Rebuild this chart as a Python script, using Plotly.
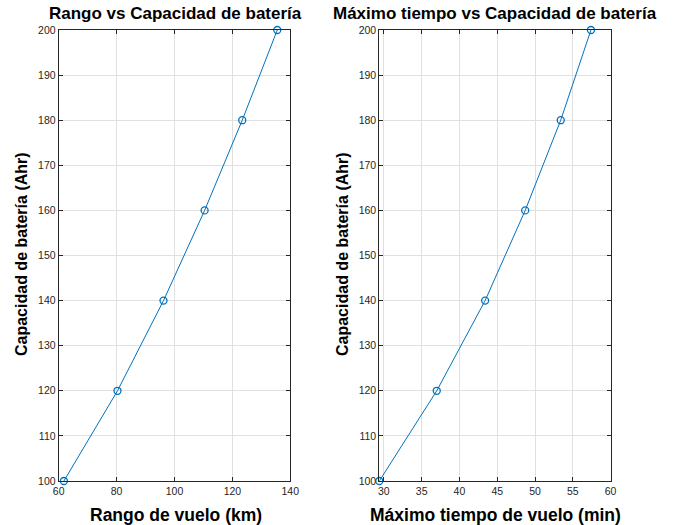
import plotly.graph_objects as go

capacidad = [100, 120, 140, 160, 180, 200]
rango_km = [61.8, 80.3, 96.2, 110.4, 123.4, 135.5]
tiempo_min = [29.4, 37.0, 43.4, 48.7, 53.4, 57.4]

title_left = "Rango vs Capacidad de batería"
title_right = "Máximo tiempo vs Capacidad de batería"
xlabel_left = "Rango de vuelo (km)"
xlabel_right = "Máximo tiempo de vuelo (min)"
ylabel = "Capacidad de batería (Ahr)"

W, H = 673, 525
blue = "#0072BD"
axc = "#262626"
gridc = "#e0e0e0"
font = "Liberation Sans, Arial, sans-serif"

# plot box positions in pixels
L1, R1 = 58.7, 290.3
L2, R2 = 379.3, 610.6
T, B = 30.0, 481.0

fig = go.Figure()
fig.add_trace(go.Scatter(x=rango_km, y=capacidad, mode="lines+markers",
                         line=dict(color=blue, width=1),
                         marker=dict(symbol="circle-open", size=7, color=blue, line=dict(width=1.3)),
                         xaxis="x", yaxis="y", showlegend=False, cliponaxis=False))
fig.add_trace(go.Scatter(x=tiempo_min, y=capacidad, mode="lines+markers",
                         line=dict(color=blue, width=1),
                         marker=dict(symbol="circle-open", size=7, color=blue, line=dict(width=1.3)),
                         xaxis="x2", yaxis="y2", showlegend=False, cliponaxis=False))

common = dict(showline=True, linecolor=axc, linewidth=1, mirror="ticks",
              ticks="inside", ticklen=4, tickcolor=axc, tickwidth=1,
              showgrid=True, gridcolor=gridc, gridwidth=1, zeroline=False,
              automargin=False,
              tickfont=dict(family=font, size=10.5, color=axc))

yd = [1 - B / H, 1 - T / H]
fig.update_layout(
    width=W, height=H,
    margin=dict(l=0, r=0, t=0, b=0, autoexpand=False),
    paper_bgcolor="white", plot_bgcolor="white",
    xaxis=dict(domain=[L1 / W, R1 / W], range=[60, 140], tickvals=[60, 80, 100, 120, 140],
               anchor="y", **common),
    yaxis=dict(domain=yd, range=[100, 200], tickvals=list(range(100, 201, 10)),
               anchor="x", **common),
    xaxis2=dict(domain=[L2 / W, R2 / W], range=[29.4, 60], tickvals=[30, 35, 40, 45, 50, 55, 60],
                anchor="y2", **common),
    yaxis2=dict(domain=yd, range=[100, 200], tickvals=list(range(100, 201, 10)),
                anchor="x2", **common),
)

def ann(text, xpx, ypx, size, angle=0):
    fig.add_annotation(text="<b>%s</b>" % text, x=xpx / W, y=1 - ypx / H,
                       xref="paper", yref="paper", showarrow=False,
                       xanchor="center", yanchor="middle", textangle=angle,
                       font=dict(family=font, size=size, color="black"))

ann(title_left, 175, 13, 17)
ann(title_right, 495, 13, 17)
ann(xlabel_left, 176, 515, 17.5)
ann(xlabel_right, 495, 515, 17.5)
ann(ylabel, 21, 254, 16, -90)
ann(ylabel, 342, 254, 16, -90)

fig.write_html("out.html")
